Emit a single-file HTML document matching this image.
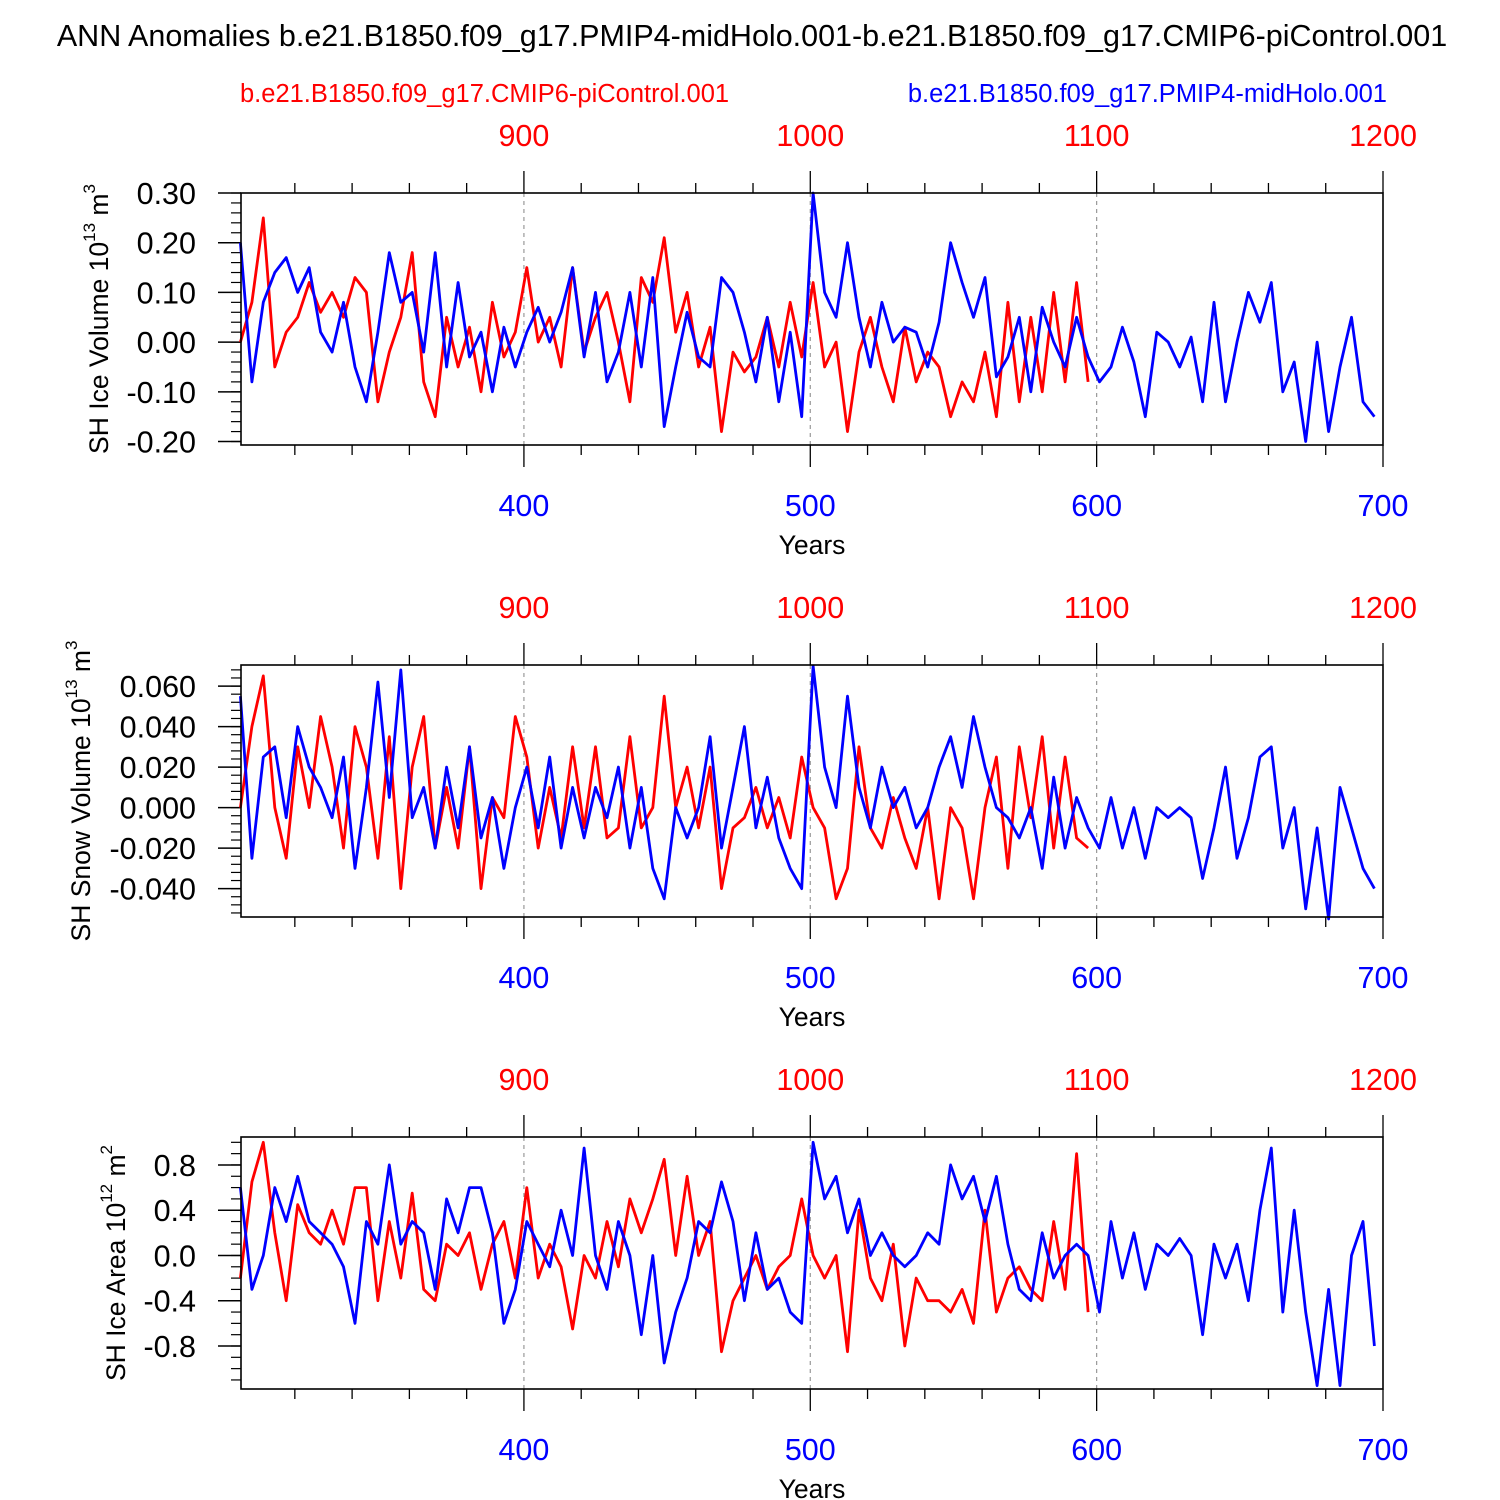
<!DOCTYPE html>
<html><head><meta charset="utf-8"><style>
html,body{margin:0;padding:0;background:#fff}
svg{display:block;font-family:"Liberation Sans",sans-serif}
</style></head><body>
<svg id="chart" width="1500" height="1500" viewBox="0 0 1500 1500" xmlns="http://www.w3.org/2000/svg">
<rect width="1500" height="1500" fill="#fff"/>
<text x="752" y="46" font-size="30.5" text-anchor="middle">ANN Anomalies b.e21.B1850.f09_g17.PMIP4-midHolo.001-b.e21.B1850.f09_g17.CMIP6-piControl.001</text>
<text x="240" y="102" font-size="25.5" fill="#f00">b.e21.B1850.f09_g17.CMIP6-piControl.001</text>
<text x="1387" y="102" font-size="25.5" fill="#00f" text-anchor="end">b.e21.B1850.f09_g17.PMIP4-midHolo.001</text>
</svg>
<script>
// shared x configuration (data)
const blueStart = 301, redStart = 801, yearStep = 4;
const blueTicks = [400, 500, 600, 700];
const redTicks = [900, 1000, 1100, 1200];

// panel 1: SH Ice Volume
const iceVolBlue = [.20,-.08,.08,.14,.17,.10,.15,.02,-.02,.08,-.05,-.12,.02,.18,.08,.10,-.02,.18,-.05,.12,-.03,.02,-.10,.03,-.05,.02,.07,.00,.06,.15,-.03,.10,-.08,-.02,.10,-.05,.13,-.17,-.05,.06,-.03,-.05,.13,.10,.02,-.08,.05,-.12,.02,-.15,.30,.10,.05,.20,.05,-.05,.08,.00,.03,.02,-.05,.04,.20,.12,.05,.13,-.07,-.03,.05,-.10,.07,.00,-.05,.05,-.03,-.08,-.05,.03,-.04,-.15,.02,.00,-.05,.01,-.12,.08,-.12,.00,.10,.04,.12,-.10,-.04,-.20,.00,-.18,-.05,.05,-.12,-.15];
const iceVolRed = [.00,.08,.25,-.05,.02,.05,.12,.06,.10,.05,.13,.10,-.12,-.02,.05,.18,-.08,-.15,.05,-.05,.03,-.10,.08,-.03,.02,.15,.00,.05,-.05,.15,-.02,.05,.10,.00,-.12,.13,.08,.21,.02,.10,-.05,.03,-.18,-.02,-.06,-.03,.05,-.05,.08,-.03,.12,-.05,.00,-.18,-.02,.05,-.05,-.12,.03,-.08,-.02,-.05,-.15,-.08,-.12,-.02,-.15,.08,-.12,.05,-.10,.10,-.08,.12,-.08];
const iceVolTicks = [0.30,0.20,0.10,0.00,-0.10,-0.20];
const iceVolTickLabels = ["0.30","0.20","0.10","0.00","-0.10","-0.20"];

// panel 2: SH Snow Volume
const snowBlue = [.055,-.025,.025,.03,-.005,.04,.02,.01,-.005,.025,-.03,.01,.062,.005,.068,-.005,.01,-.02,.02,-.01,.03,-.015,.005,-.03,.00,.02,-.01,.025,-.02,.01,-.015,.01,-.005,.02,-.02,.01,-.03,-.045,.00,-.015,.00,.035,-.02,.01,.04,-.01,.015,-.015,-.03,-.04,.07,.02,.00,.055,.01,-.01,.02,.00,.01,-.01,.00,.02,.035,.01,.045,.02,.00,-.005,-.015,.00,-.03,.015,-.02,.005,-.01,-.02,.005,-.02,.00,-.025,.00,-.005,.00,-.005,-.035,-.01,.02,-.025,-.005,.025,.03,-.02,.00,-.05,-.01,-.055,.01,-.01,-.03,-.04];
const snowRed = [.00,.04,.065,.00,-.025,.03,.00,.045,.02,-.02,.04,.02,-.025,.035,-.04,.02,.045,-.02,.01,-.02,.03,-.04,.005,-.005,.045,.025,-.02,.01,-.015,.03,-.01,.03,-.015,-.01,.035,-.01,.00,.055,.00,.02,-.01,.02,-.04,-.01,-.005,.01,-.01,.005,-.015,.025,.00,-.01,-.045,-.03,.03,-.01,-.02,.005,-.015,-.03,.00,-.045,.00,-.01,-.045,.00,.025,-.03,.03,-.005,.035,-.02,.025,-.015,-.02];
const snowTicks = [0.06,0.04,0.02,0,-0.02,-0.04];
const snowTickLabels = ["0.060","0.040","0.020","0.000","-0.020","-0.040"];

// panel 3: SH Ice Area
const areaBlue = [.6,-.3,.0,.6,.3,.7,.3,.2,.1,-.1,-.6,.3,.1,.8,.1,.3,.2,-.3,.5,.2,.6,.6,.2,-.6,-.3,.3,.1,-.1,.4,.0,.95,.0,-.3,.3,.0,-.7,.0,-.95,-.5,-.2,.3,.2,.65,.3,-.4,.2,-.3,-.2,-.5,-.6,1.0,.5,.7,.2,.5,.0,.2,.0,-.1,.0,.2,.1,.8,.5,.7,.3,.7,.1,-.3,-.4,.2,-.2,.0,.1,.0,-.5,.3,-.2,.2,-.3,.1,.0,.15,.0,-.7,.1,-.2,.1,-.4,.4,.95,-.5,.4,-.5,-1.15,-.3,-1.15,.0,.3,-.8];
const areaRed = [-.2,.65,1.0,.2,-.4,.45,.2,.1,.4,.1,.6,.6,-.4,.3,-.2,.55,-.3,-.4,.1,.0,.2,-.3,.1,.3,-.2,.6,-.2,.1,-.1,-.65,.0,-.2,.3,-.1,.5,.2,.5,.85,.0,.7,.0,.3,-.85,-.4,-.2,.0,-.3,-.1,.0,.5,.0,-.2,.0,-.85,.4,-.2,-.4,.1,-.8,-.2,-.4,-.4,-.5,-.3,-.6,.4,-.5,-.2,-.1,-.3,-.4,.3,-.3,.9,-.5];
const areaTicks = [0.8,0.4,0,-0.4,-0.8];
const areaTickLabels = ["0.8","0.4","0.0","-0.4","-0.8"];

const NS = "http://www.w3.org/2000/svg";
const svg = document.getElementById("chart");
function mk(tag, attrs, parent) {
  const e = document.createElementNS(NS, tag);
  for (const k in attrs) e.setAttribute(k, attrs[k]);
  (parent || svg).appendChild(e);
  return e;
}
const X0 = 241, X1 = 1383;
function xBlue(yr) { return X0 + (yr - 301.2) / (700 - 301.2) * (X1 - X0); }
function xRed(yr) { return xBlue(yr - 500); }

const panels = [
  {name:"ice-volume", top:193, vTop:0.30, vBot:-0.207, minor:0.02, blue:iceVolBlue, red:iceVolRed, ticks:iceVolTicks, labels:iceVolTickLabels,
   title:["SH Ice Volume 10","13"," m","3"], tx:98},
  {name:"snow-volume", top:665, vTop:0.0704, vBot:-0.054, minor:0.004, blue:snowBlue, red:snowRed, ticks:snowTicks, labels:snowTickLabels,
   title:["SH Snow Volume 10","13"," m","3"], tx:80},
  {name:"ice-area", top:1137, vTop:1.047, vBot:-1.18, minor:0.1, blue:areaBlue, red:areaRed, ticks:areaTicks, labels:areaTickLabels,
   title:["SH Ice Area 10","12"," m","2"], tx:115}
];

panels.forEach(p => {
  const H = 252, top = p.top, bot = top + H;
  const g = mk("g", {});
  
  
  const y = v => top + (p.vTop - v) / (p.vTop - p.vBot) * H;
  blueTicks.slice(0, 3).forEach(t => {
    const l = mk("line", {x1:xBlue(t), x2:xBlue(t), y1:top, y2:bot, stroke:"#999", "stroke-width":1.2, "stroke-dasharray":"4,4"}, g);
    
    
  });
  for (let yr = 320; yr <= 700; yr += 20) {
    const xx = xBlue(yr), major = yr % 100 === 0;
    mk("line", {x1:xx, x2:xx, y1:bot, y2:bot + (major ? 22 : 10), stroke:"#000", "stroke-width":1.3}, g);
    mk("line", {x1:xx, x2:xx, y1:top, y2:top - (major ? 22 : 10), stroke:"#000", "stroke-width":1.3}, g);
  }
  const nMin = Math.ceil(p.vBot / p.minor - 1e-6), nMax = Math.floor(p.vTop / p.minor + 1e-6);
  for (let i = nMin; i <= nMax; i++) {
    const yy = y(i * p.minor);
    mk("line", {x1:X0 - 10, x2:X0, y1:yy, y2:yy, stroke:"#000", "stroke-width":1.2}, g);
  }
  p.ticks.forEach((t, i) => {
    const yy = y(t);
    mk("line", {x1:X0 - 23, x2:X0, y1:yy, y2:yy, stroke:"#000", "stroke-width":1.5}, g);
    const tx = mk("text", {x:196, y:yy + 11, "font-size":30.5, "text-anchor":"end"}, g);
    tx.textContent = p.labels[i];
    
    
  });
  const line = (vals, start, xf, color, nm) => {
    const pts = vals.map((v, i) => xf(start + i * yearStep).toFixed(1) + "," + y(v).toFixed(1)).join(" ");
    const pl = mk("polyline", {points:pts, fill:"none", stroke:color, "stroke-width":2.8, "stroke-linejoin":"round"}, g);
    
    
  };
  line(p.red, redStart, xRed, "#f00", p.name + '-red-line');
  line(p.blue, blueStart, xBlue, "#00f", p.name + '-blue-line');
  const fr = mk("rect", {x:X0, y:top, width:X1 - X0, height:H, fill:"none", stroke:"#000", "stroke-width":1.6}, g);
  
  
  redTicks.forEach(t => {
    const tx = mk("text", {x:xRed(t), y:top - 47, "font-size":30.5, "text-anchor":"middle", fill:"#f00"}, g);
    tx.textContent = t;
    
    
  });
  blueTicks.forEach(t => {
    const tx = mk("text", {x:xBlue(t), y:bot + 71, "font-size":30.5, "text-anchor":"middle", fill:"#00f"}, g);
    tx.textContent = t;
    
    
  });
  const xt = mk("text", {x:812, y:bot + 109, "font-size":26.5, "text-anchor":"middle"}, g);
  xt.textContent = "Years";
  
  
  const yt = mk("text", {x:0, y:0, "font-size":26.5, "text-anchor":"middle", transform:"translate(" + (p.tx + 10) + "," + (top + H / 2) + ") rotate(-90)"}, g);
  
  
  const parts = p.title;
  let prevSup = 0;
  [[parts[0], 0], [parts[1], 1], [parts[2], 0], [parts[3], 1]].forEach(([s, sup]) => {
    const ts = mk("tspan", sup ? {"font-size":17, dy:-13} : {dy: prevSup ? 13 : 0}, yt);
    ts.textContent = s;
    prevSup = sup;
  });
});
</script>
</body></html>
